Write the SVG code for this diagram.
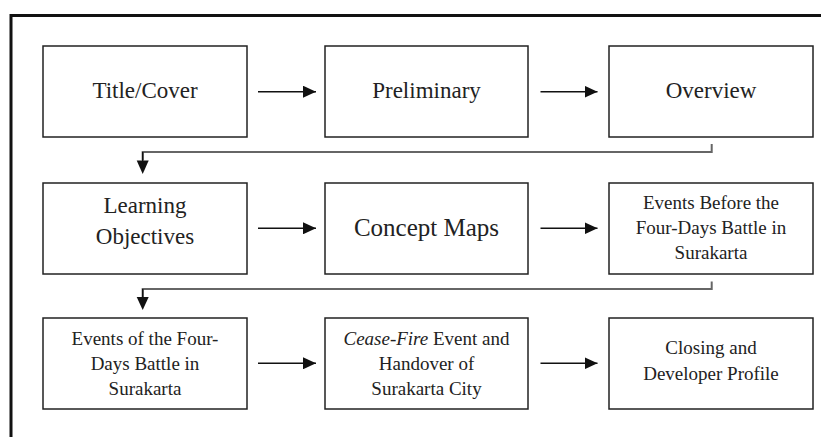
<svg xmlns="http://www.w3.org/2000/svg" width="821" height="437" viewBox="0 0 821 437">
<style>
.box{fill:#fff;stroke:#222;stroke-width:1.5}
text{font-family:'Liberation Serif','Times New Roman','DejaVu Serif',serif;fill:#222;text-anchor:middle}
.t23{font-size:23px}
.t25{font-size:25px}
.t19{font-size:19px}
.arr{fill:none;stroke:#111;stroke-width:1.5}
.conn{fill:none;stroke:#666;stroke-width:2}
</style>
<defs>
<marker id="ah" markerUnits="userSpaceOnUse" markerWidth="14" markerHeight="12" refX="13" refY="6" orient="auto">
<path d="M0,0 L13,6 L0,12 Z" fill="#111"/>
</marker>
</defs>
<rect width="821" height="437" fill="#fff"/>
<path d="M11 437 V15.5 H821" fill="none" stroke="#111" stroke-width="3"/>

<g id="title-cover"><rect class="box" x="43" y="46" width="204" height="91"/><text class="t23" x="145" y="98" font-family="Liberation Serif, serif">Title/Cover</text></g>
<g id="preliminary"><rect class="box" x="325" y="46" width="203" height="91"/><text class="t23" x="426.5" y="98" font-family="Liberation Serif, serif">Preliminary</text></g>
<g id="overview"><rect class="box" x="609" y="46" width="204" height="91"/><text class="t23" x="711" y="98" font-family="Liberation Serif, serif">Overview</text></g>

<g id="learning-objectives"><rect class="box" x="43" y="183" width="204" height="91"/><text class="t23" x="145" y="213" font-family="Liberation Serif, serif">Learning</text><text class="t23" x="145" y="244" font-family="Liberation Serif, serif">Objectives</text></g>
<g id="concept-maps"><rect class="box" x="325" y="183" width="203" height="91"/><text class="t25" x="426.5" y="236" font-family="Liberation Serif, serif">Concept Maps</text></g>
<g id="events-before"><rect class="box" x="609" y="183" width="204" height="91"/><text class="t19" x="711" y="208.5" font-family="Liberation Serif, serif">Events Before the</text><text class="t19" x="711" y="233.5" font-family="Liberation Serif, serif">Four-Days Battle in</text><text class="t19" x="711" y="258.5" font-family="Liberation Serif, serif">Surakarta</text></g>

<g id="events-of"><rect class="box" x="43" y="318" width="204" height="91"/><text class="t19" x="145" y="345" font-family="Liberation Serif, serif">Events of the Four-</text><text class="t19" x="145" y="370" font-family="Liberation Serif, serif">Days Battle in</text><text class="t19" x="145" y="395" font-family="Liberation Serif, serif">Surakarta</text></g>
<g id="cease-fire"><rect class="box" x="325" y="318" width="203" height="91"/><text class="t19" x="426.5" y="344.5" font-family="Liberation Serif, serif"><tspan font-style="italic">Cease-Fire</tspan> Event and</text><text class="t19" x="426.5" y="369.5" font-family="Liberation Serif, serif">Handover of</text><text class="t19" x="426.5" y="394.5" font-family="Liberation Serif, serif">Surakarta City</text></g>
<g id="closing"><rect class="box" x="609" y="318" width="204" height="91"/><text class="t19" x="711" y="354" font-family="Liberation Serif, serif">Closing and</text><text class="t19" x="711" y="379.5" font-family="Liberation Serif, serif">Developer Profile</text></g>

<g id="connectors">
<line class="arr" x1="258" y1="91.7" x2="316" y2="91.7" marker-end="url(#ah)"/>
<line class="arr" x1="540.5" y1="91.7" x2="597.5" y2="91.7" marker-end="url(#ah)"/>
<line class="arr" x1="258" y1="228.3" x2="316" y2="228.3" marker-end="url(#ah)"/>
<line class="arr" x1="540.5" y1="228.3" x2="597.5" y2="228.3" marker-end="url(#ah)"/>
<line class="arr" x1="258" y1="363.3" x2="316" y2="363.3" marker-end="url(#ah)"/>
<line class="arr" x1="540.5" y1="363.3" x2="597.5" y2="363.3" marker-end="url(#ah)"/>
<path class="conn" d="M711.7 144 V152 H142.7 V160"/>
<path d="M142.7 152 V161" stroke="#111" stroke-width="1.5"/>
<path d="M136.7 160.5 L148.7 160.5 L142.7 174 Z" fill="#111"/>
<path class="conn" d="M711.7 281.5 V289 H142.7 V297"/>
<path d="M142.7 289 V298" stroke="#111" stroke-width="1.5"/>
<path d="M136.7 297 L148.7 297 L142.7 310 Z" fill="#111"/>
</g>
</svg>
